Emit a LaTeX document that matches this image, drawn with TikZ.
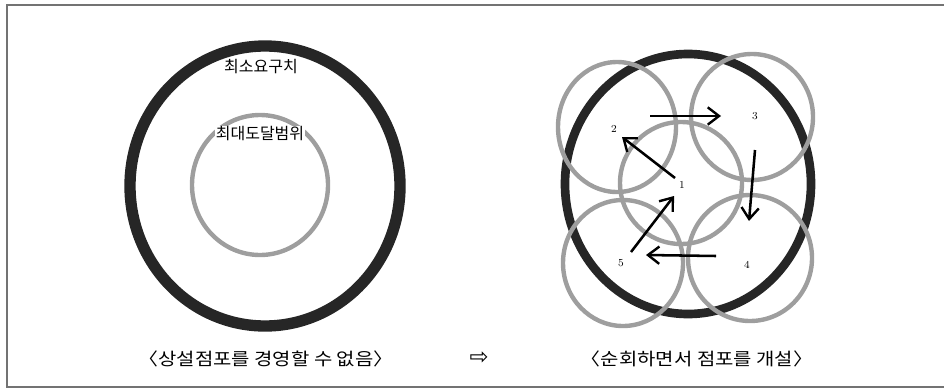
\documentclass[tikz,border=0pt]{standalone}
\usepackage{fontspec}
\usepackage{graphicx}
\usetikzlibrary{arrows.meta}
\newfontfamily\krfont{Noto Sans CJK KR}
\newfontfamily\dvfont{DejaVu Sans}
\definecolor{ringdark}{gray}{0.15}
\definecolor{ringgrey}{gray}{0.62}
\definecolor{framegrey}{gray}{0.45}
\tikzset{
  darkring/.style={draw=ringdark, line width=8.5pt},
  greyring/.style={draw=ringgrey, line width=3.3pt},
  flowarrow/.style={draw=black, line width=1.9pt, -{Straight Barb[length=8.5pt,width=13pt,line width=1.8pt]}},
  numlabel/.style={font=\fontsize{8}{9}\selectfont, inner sep=0pt},
  krlabel/.style={font=\krfont\fontsize{12}{14}\selectfont, inner sep=0.5pt},
  caption/.style={font=\krfont\fontsize{13}{15}\selectfont, inner sep=0pt}
}
\begin{document}
\begin{tikzpicture}[x=0.75pt,y=-0.75pt]
\useasboundingbox (0,0) rectangle (944,389);
% frame
\draw[framegrey, line width=1pt] (944,5) -- (7,5) -- (7,387) -- (944,387);
% left diagram
\draw[darkring] (265,186) ellipse [x radius=135, y radius=140];
\draw[greyring] (260,185) ellipse [x radius=68, y radius=70];
\node[krlabel] (minreq) at (261,67) {최소요구치};
\node[krlabel, fill=white] (maxreach) at (260,134) {최대도달범위};
% right diagram
\draw[darkring, line width=6.5pt] (688,184) ellipse [x radius=123, y radius=130];
\draw[greyring] (681,183) ellipse [x radius=61, y radius=61];
\draw[greyring] (617,127) ellipse [x radius=59, y radius=65];
\draw[greyring] (752,117) ellipse [x radius=61, y radius=63];
\draw[greyring] (750,258) ellipse [x radius=62, y radius=63];
\draw[greyring] (623,263) ellipse [x radius=60, y radius=63];
\node[numlabel] (n1) at (682,185) {1};
\node[numlabel] (n2) at (614,129) {2};
\node[numlabel] (n3) at (755,116) {3};
\node[numlabel] (n4) at (747,265) {4};
\node[numlabel] (n5) at (621,263) {5};
\coordinate (a1s) at (675,178); \coordinate (a1e) at (622,137);
\coordinate (a2s) at (650,116); \coordinate (a2e) at (721,116);
\coordinate (a3s) at (755,150); \coordinate (a3e) at (749,221);
\coordinate (a4s) at (716,256); \coordinate (a4e) at (646,255);
\coordinate (a5s) at (631,252); \coordinate (a5e) at (674,196);
\draw[flowarrow] (a1s) -- (a1e);
\draw[flowarrow] (a2s) -- (a2e);
\draw[flowarrow] (a3s) -- (a3e);
\draw[flowarrow] (a4s) -- (a4e);
\draw[flowarrow] (a5s) -- (a5e);
% captions
\node[caption] (capL) at (266,359) {\scalebox{1.15}[1]{〈상설점포를 경영할 수 없음〉}};
\node[caption, font=\dvfont\fontsize{17}{19}\selectfont] (arrowR) at (479,358) {⇨};
\node[caption] (capR) at (697,359) {\scalebox{1.15}[1]{〈순회하면서 점포를 개설〉}};
\end{tikzpicture}
\end{document}
